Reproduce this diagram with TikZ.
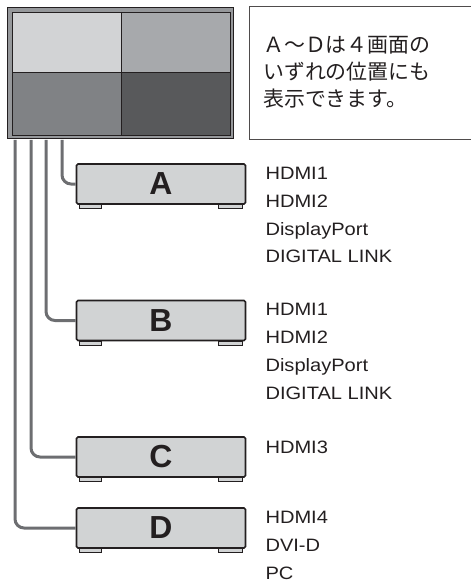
\documentclass[tikz,border=0pt]{standalone}
\usepackage{fontspec}
\setmainfont{Liberation Sans}
\newfontfamily\jpfont{Noto Sans CJK JP}
\newfontfamily\portfont[FakeStretch=1.12]{Liberation Sans}
\usetikzlibrary{positioning}
\definecolor{quadA}{RGB}{210,211,213}
\definecolor{quadB}{RGB}{167,169,172}
\definecolor{quadC}{RGB}{128,130,133}
\definecolor{quadD}{RGB}{88,89,91}
\definecolor{bezel}{RGB}{150,152,155}
\definecolor{boxgray}{RGB}{209,211,212}
\definecolor{cablegray}{RGB}{109,110,113}
\definecolor{inkdark}{RGB}{35,31,32}

\begin{document}
\begin{tikzpicture}[x=1bp, y=-1bp, every node/.style={inner sep=0pt}]
  \tikzstyle{player}=[draw=inkdark, line width=1.6bp, fill=boxgray, rounded corners=1.5bp, minimum width=169bp, minimum height=40bp, font=\fontsize{32}{32}\selectfont\bfseries, text=inkdark]
  \tikzstyle{foot}=[draw=inkdark, line width=1.2bp, fill=boxgray]
  \tikzstyle{cable}=[draw=cablegray, line width=3bp, rounded corners=9bp]
  \tikzstyle{ports}=[align=left, font=\portfont\fontsize{18}{28}\selectfont, text=inkdark]
  \useasboundingbox (0,0) rectangle (471,583);

  % cables leave the display at its lower edge
  \coordinate (topA) at (62,140);
  \coordinate (topB) at (46,140);
  \coordinate (topC) at (31,140);
  \coordinate (topD) at (15,140);

  % display with four areas
  \node[draw=inkdark, line width=1.5bp, fill=bezel, minimum width=226bp, minimum height=131bp] (mon) at (120.5,73) {};
  \fill[quadA] (12,12) rectangle (121,72);
  \fill[quadB] (121,12) rectangle (230,72);
  \fill[quadC] (12,72) rectangle (121,135);
  \fill[quadD] (121,72) rectangle (230,135);
  \draw[inkdark, line width=0.9bp] (12,12) rectangle (230,135) (121,12) -- (121,135) (12,72) -- (230,72);

  % note box
  \draw[inkdark!80, line width=1bp] (472,7) -| (249,140) -- (472,140);
  \node[anchor=north west, align=left, font=\jpfont\fontsize{21}{27}\selectfont, text=inkdark] (note) at (263,36) {Ａ～Ｄは４画面の\\いずれの位置にも\\表示できます。};

  % players
  \node[player] (A) at (161,184) {A};
  \node[player] (B) at (161,320.5) {B};
  \node[player] (C) at (161,457) {C};
  \node[player] (D) at (161,528) {D};
  \foreach \p in {A,B,C,D}{
    \draw[foot] ([xshift=4bp]\p.south west) rectangle ([xshift=26bp,yshift=-4bp]\p.south west);
    \draw[foot] ([xshift=-4bp]\p.south east) rectangle ([xshift=-28bp,yshift=-4bp]\p.south east);
  }

  \draw[cable] (topA) |- (A.west);
  \draw[cable] (topB) |- (B.west);
  \draw[cable] (topC) |- (C.west);
  \draw[cable] (topD) |- (D.west);

  % inputs
  \node[ports, below right=3.5bp and 19bp of A.north east] (inA) {HDMI1\\HDMI2\\DisplayPort\\DIGITAL LINK};
  \node[ports, below right=3.5bp and 19bp of B.north east] (inB) {HDMI1\\HDMI2\\DisplayPort\\DIGITAL LINK};
  \node[ports, below right=4.5bp and 19bp of C.north east] (inC) {HDMI3};
  \node[ports, below right=3.5bp and 19bp of D.north east] (inD) {HDMI4\\DVI-D\\PC};
\end{tikzpicture}
\end{document}
